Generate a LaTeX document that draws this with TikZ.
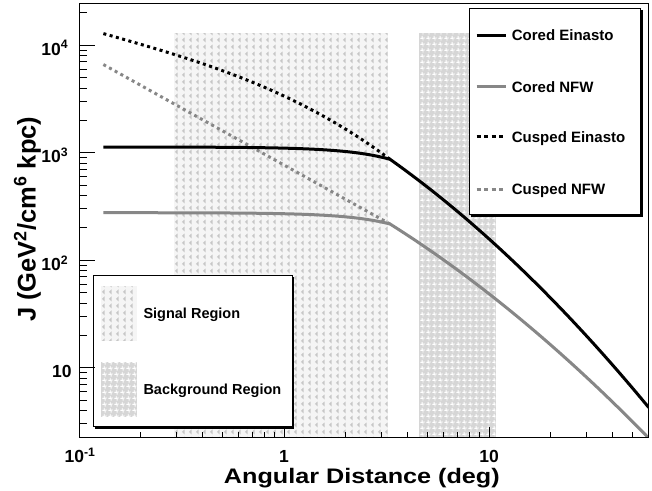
\documentclass[tikz,border=0pt]{standalone}
\usepackage{fontspec}
\setmainfont{Liberation Sans}
\usetikzlibrary{patterns}
\definecolor{rgray}{gray}{0.53}
\definecolor{sigbase}{gray}{0.96}
\definecolor{sigtri}{gray}{0.78}
\definecolor{bkgbase}{gray}{0.84}
\pgfdeclarepatternformonly{sigpat}{\pgfqpoint{0pt}{0pt}}{\pgfqpoint{7.3pt}{7pt}}{\pgfqpoint{7.3pt}{7pt}}{%
  \pgfpathmoveto{\pgfqpoint{1.0pt}{3.5pt}}%
  \pgfpathlineto{\pgfqpoint{4.0pt}{0.6pt}}%
  \pgfpathlineto{\pgfqpoint{4.0pt}{6.4pt}}%
  \pgfpathclose\pgfusepath{fill}}
\pgfdeclarepatternformonly{bkgpat}{\pgfqpoint{0pt}{0pt}}{\pgfqpoint{6pt}{6pt}}{\pgfqpoint{6pt}{6pt}}{%
  \pgfpathrectangle{\pgfqpoint{0.5pt}{2.5pt}}{\pgfqpoint{2.5pt}{1pt}}%
  \pgfpathrectangle{\pgfqpoint{3pt}{0.5pt}}{\pgfqpoint{1pt}{2.5pt}}%
  \pgfpathrectangle{\pgfqpoint{3pt}{3pt}}{\pgfqpoint{2.5pt}{1pt}}%
  \pgfpathrectangle{\pgfqpoint{2pt}{3.5pt}}{\pgfqpoint{1pt}{2.5pt}}%
  \pgfusepath{fill}}
\begin{document}
\begin{tikzpicture}[x=1pt,y=-1pt,
  frm/.style={draw=black,line width=1pt},
  curveK/.style={line width=3pt,draw=black},
  curveG/.style={line width=3pt,draw=rgray},
  dotK/.style={curveK,dash pattern=on 3pt off 3.5pt},
  dotG/.style={curveG,dash pattern=on 3pt off 3.5pt},
  tk/.style={line width=0.9pt,draw=black},
  lab/.style={font=\bfseries\fontsize{17.5}{18}\selectfont,inner sep=0pt},
  leg/.style={font=\bfseries\fontsize{15}{16}\selectfont,inner sep=0pt,anchor=base west},
  ttl/.style={font=\bfseries\fontsize{21}{22}\selectfont,inner sep=0pt},
  ytl/.style={font=\bfseries\fontsize{25.5}{26}\selectfont,inner sep=0pt},
  legbox/.style={draw=black,line width=1pt,fill=white}]
\useasboundingbox (0,0) rectangle (652,490);
% regions
\fill[sigbase] (174,33.3) rectangle (388,437.7);
\fill[pattern=sigpat,pattern color=sigtri] (174,33.3) rectangle (388,437.7);
\fill[bkgbase] (419.3,33.3) rectangle (495.5,437.7);
\fill[pattern=bkgpat,pattern color=white] (419.3,33.3) rectangle (495.5,437.7);
% curves
\begin{scope}
\clip (79,3.3) rectangle (648,437.7);
\draw[dotK] plot[domain=-0.881:0.517,samples=60] ({79+205*(\x+1)},{152.7-107.5*(1.108-0.543*(\x+0.881)-0.150*(\x+0.881)^3)});
\draw[dotG] plot[domain=-0.881:0.517,samples=60] ({79+205*(\x+1)},{152.7-107.5*(0.820-1.061*(\x+0.881))});
\draw[curveK] plot[domain=-0.881:0.517,samples=50] ({79+205*(\x+1)},{152.7-107.5*(0.053-0.114*pow(10,2*(\x-0.517)))})
  -- plot[domain=0.517:1.78,samples=60] ({79+205*(\x+1)},{152.7-107.5*(-0.061-1.35*(\x-0.517)-0.38*(\x-0.517)^2)});
\draw[curveG] plot[domain=-0.881:0.517,samples=50] ({79+205*(\x+1)},{152.7-107.5*(-0.558-0.105*pow(10,2*(\x-0.517)))})
  -- plot[domain=0.517:1.78,samples=60] ({79+205*(\x+1)},{152.7-107.5*(-0.663-1.2*(\x-0.517)-0.30*(\x-0.517)^2)});
\end{scope}
% top-right legend
\draw[line width=2pt] (471,215.5) -- (641.5,215.5) -- (641.5,10);
\filldraw[legbox] (469.3,8.3) rectangle (640.7,214.5);
\coordinate (lA1) at (476.7,35);   \coordinate (lA2) at (506,35);
\coordinate (lB1) at (476.7,86.7); \coordinate (lB2) at (506,86.7);
\coordinate (lC1) at (476.7,136.7);\coordinate (lC2) at (506,136.7);
\coordinate (lD1) at (476.7,189);  \coordinate (lD2) at (506,189);
\draw[curveK] (lA1) -- (lA2);
\draw[curveG] (lB1) -- (lB2);
\draw[dotK,dash pattern=on 4pt off 3.5pt] (lC1) -- (lC2);
\draw[dotG,dash pattern=on 4pt off 3.5pt] (lD1) -- (lD2);
\node[leg] (tA) at (511.7,40.4) {Cored Einasto};
\node[leg] (tB) at (511.7,92.1) {Cored NFW};
\node[leg] (tC) at (511.7,142.1) {Cusped Einasto};
\node[leg] (tD) at (511.7,194.4) {Cusped NFW};
% bottom-left legend
\draw[line width=2pt] (95,427.5) -- (293,427.5) -- (293,277);
\filldraw[legbox] (93.3,275.7) rectangle (292.3,426.7);
\fill[sigbase] (100.7,286) rectangle (136.7,340.7);
\fill[pattern=sigpat,pattern color=sigtri] (100.7,286) rectangle (136.7,340.7);
\fill[bkgbase] (100.7,362.3) rectangle (136.7,416.7);
\fill[pattern=bkgpat,pattern color=white] (100.7,362.3) rectangle (136.7,416.7);
\node[leg,font=\bfseries\fontsize{14.5}{15}\selectfont] (tS) at (143.3,318.5) {Signal Region};
\node[leg,font=\bfseries\fontsize{14.5}{15}\selectfont] (tBg) at (143.3,394.5) {Background Region};
% frame
\draw[frm] (79,3.3) rectangle (648,437.7);
% y ticks
\foreach \k in {1,2,3,4} \draw[tk] (79,{152.7-107.5*(\k-3)}) -- ++(16,0);
\foreach \v in {0.477,0.602,0.699,0.778,0.845,0.903,0.954,
                1.301,1.477,1.602,1.699,1.778,1.845,1.903,1.954,
                2.301,2.477,2.602,2.699,2.778,2.845,2.903,2.954,
                3.301,3.477,3.602,3.699,3.778,3.845,3.903,3.954,4.301}
  \draw[tk] (79,{152.7-107.5*(\v-3)}) -- ++(7.5,0);
% x ticks
\foreach \u in {0,1} \draw[tk] ({79+205*(\u+1)},437.7) -- ++(0,-11);
\foreach \v in {-0.699,-0.523,-0.398,-0.301,-0.222,-0.155,-0.097,-0.046,
                0.301,0.477,0.602,0.699,0.778,0.845,0.903,0.954,
                1.301,1.477,1.602,1.699}
  \draw[tk] ({79+205*(\v+1)},437.7) -- ++(0,-5.5);
% tick labels
\node[lab,anchor=base east] (y4) at (68.3,55) {10\textsuperscript{4}};
\node[lab,anchor=base east] (y3) at (68.3,162.7) {10\textsuperscript{3}};
\node[lab,anchor=base east] (y2) at (68.3,270.3) {10\textsuperscript{2}};
\node[lab,anchor=base east] (y1) at (71.7,377.7) {10};
\node[lab,anchor=base] (x0) at (80,462.5) {10\textsuperscript{-1}};
\node[lab,anchor=base] (x1) at (284,462.5) {1};
\node[lab,anchor=base] (x2) at (489,462.5) {10};
% titles
\node[ttl,anchor=base east] (xt) at (500,483.5) {\scalebox{1.2}[1]{Angular Distance (deg)}};
\node[ytl,anchor=base east,rotate=90] (yt) at (35.5,116.5) {J (GeV\textsuperscript{2}/cm\textsuperscript{6} kpc)};
\end{tikzpicture}
\end{document}
